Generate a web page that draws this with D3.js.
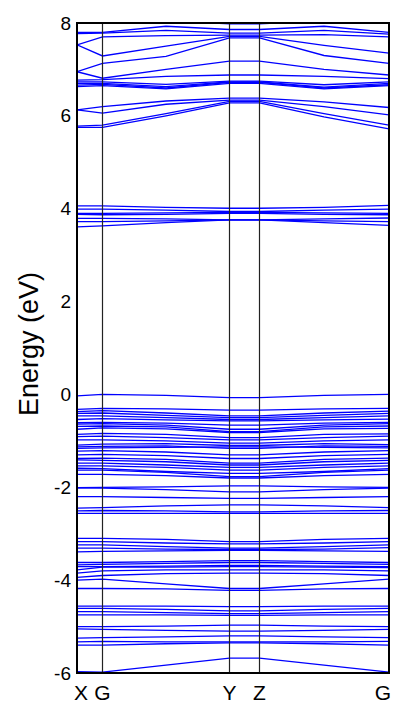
<!DOCTYPE html>
<html>
<head>
<meta charset="utf-8">
<script src="https://cdn.jsdelivr.net/npm/d3@7"></script>
<style>
  html, body { margin: 0; padding: 0; background: #fff; }
  svg { display: block; }
  text { font-family: Arial, "Liberation Sans", sans-serif; fill: #000; }
</style>
</head>
<body>
<svg id="chart" width="393" height="706"></svg>
<script>
// k-path: high-symmetry points and their cumulative distances
const symLabels = ["X", "G", "Y", "Z", "G"];
const symK = [0, 0.255, 1.525, 1.825, 3.12];
// sample points along the path: X, G, mid(G-Y), Y, Z, mid(Z-G), G
const kSamples = [0, 0.255, 0.89, 1.525, 1.825, 2.47, 3.12];
const energyTicks = [-6, -4, -2, 0, 2, 4, 6, 8];

// conduction bands above 5.5 eV
const bandsHigh = [
  [8.30, 8.20, 8.05, 7.98, 7.98, 8.05, 8.20],
  [7.80, 7.80, 7.93, 7.86, 7.86, 7.93, 7.80],
  [7.77, 7.78, 7.84, 7.78, 7.78, 7.84, 7.76],
  [7.53, 7.70, 7.73, 7.74, 7.74, 7.75, 7.70],
  [7.53, 7.29, 7.50, 7.71, 7.71, 7.52, 7.35],
  [6.95, 7.13, 7.28, 7.68, 7.68, 7.30, 7.13],
  [6.95, 6.81, 7.00, 7.18, 7.18, 7.00, 6.88],
  [6.77, 6.78, 6.85, 6.88, 6.88, 6.85, 6.80],
  [6.73, 6.73, 6.68, 6.75, 6.75, 6.67, 6.73],
  [6.70, 6.70, 6.63, 6.73, 6.73, 6.62, 6.70],
  [6.66, 6.68, 6.60, 6.72, 6.72, 6.60, 6.67],
  [6.63, 6.65, 6.58, 6.70, 6.70, 6.58, 6.65],
  [6.13, 6.20, 6.32, 6.38, 6.38, 6.30, 6.18],
  [6.13, 6.06, 6.25, 6.34, 6.34, 6.20, 6.02],
  [5.78, 5.80, 6.05, 6.31, 6.31, 6.05, 5.80],
  [5.75, 5.75, 6.00, 6.28, 6.28, 5.98, 5.72]
];

// conduction bands around 4 eV
const bandsMid = [
  [4.06, 4.06, 4.03, 4.01, 4.01, 4.03, 4.07],
  [3.99, 3.99, 3.97, 3.94, 3.94, 3.97, 3.99],
  [3.90, 3.90, 3.91, 3.92, 3.92, 3.91, 3.90],
  [3.88, 3.87, 3.88, 3.90, 3.90, 3.88, 3.87],
  [3.79, 3.79, 3.78, 3.76, 3.76, 3.78, 3.80],
  [3.72, 3.72, 3.74, 3.76, 3.76, 3.74, 3.72],
  [3.61, 3.63, 3.70, 3.76, 3.76, 3.70, 3.64]
];

// upper valence bands, 0 to -2.6 eV
const bandsVal = [
  [-0.03, 0.00, -0.02, -0.07, -0.07, -0.02, 0.00],
  [-0.32, -0.30, -0.31, -0.34, -0.34, -0.31, -0.30],
  [-0.37, -0.35, -0.40, -0.46, -0.46, -0.40, -0.36],
  [-0.41, -0.40, -0.45, -0.50, -0.50, -0.45, -0.41],
  [-0.46, -0.46, -0.50, -0.54, -0.54, -0.50, -0.46],
  [-0.54, -0.52, -0.55, -0.57, -0.57, -0.55, -0.53],
  [-0.61, -0.60, -0.62, -0.66, -0.66, -0.62, -0.60],
  [-0.64, -0.63, -0.66, -0.75, -0.75, -0.66, -0.63],
  [-0.69, -0.68, -0.70, -0.80, -0.80, -0.70, -0.68],
  [-0.75, -0.72, -0.74, -0.82, -0.82, -0.74, -0.73],
  [-0.86, -0.84, -0.86, -0.93, -0.93, -0.86, -0.85],
  [-0.91, -0.90, -0.93, -0.98, -0.98, -0.93, -0.90],
  [-0.98, -0.98, -1.00, -1.05, -1.05, -1.00, -0.98],
  [-1.09, -1.07, -1.06, -1.10, -1.10, -1.06, -1.08],
  [-1.13, -1.12, -1.11, -1.16, -1.16, -1.11, -1.12],
  [-1.16, -1.15, -1.14, -1.13, -1.13, -1.14, -1.15],
  [-1.22, -1.21, -1.24, -1.30, -1.30, -1.24, -1.21],
  [-1.30, -1.29, -1.32, -1.38, -1.38, -1.32, -1.29],
  [-1.38, -1.37, -1.40, -1.48, -1.48, -1.40, -1.37],
  [-1.41, -1.42, -1.45, -1.52, -1.52, -1.45, -1.42],
  [-1.48, -1.48, -1.52, -1.57, -1.57, -1.52, -1.48],
  [-1.54, -1.54, -1.57, -1.63, -1.63, -1.57, -1.54],
  [-1.59, -1.60, -1.66, -1.70, -1.70, -1.66, -1.60],
  [-1.63, -1.63, -1.68, -1.77, -1.77, -1.68, -1.63],
  [-1.72, -1.72, -1.75, -1.80, -1.80, -1.75, -1.72],
  [-2.01, -2.00, -1.99, -1.97, -1.97, -1.99, -2.00],
  [-2.01, -2.02, -2.05, -2.10, -2.10, -2.05, -2.02],
  [-2.20, -2.20, -2.22, -2.24, -2.24, -2.22, -2.20],
  [-2.45, -2.44, -2.40, -2.38, -2.38, -2.40, -2.44],
  [-2.51, -2.50, -2.51, -2.53, -2.53, -2.51, -2.50],
  [-2.56, -2.56, -2.56, -2.56, -2.56, -2.56, -2.56]
];

// deeper valence bands, -3 to -6 eV
const bandsDeep = [
  [-3.10, -3.10, -3.12, -3.17, -3.17, -3.12, -3.10],
  [-3.17, -3.17, -3.20, -3.22, -3.22, -3.20, -3.17],
  [-3.24, -3.24, -3.28, -3.31, -3.31, -3.28, -3.24],
  [-3.31, -3.31, -3.33, -3.34, -3.34, -3.33, -3.30],
  [-3.39, -3.38, -3.37, -3.36, -3.36, -3.37, -3.38],
  [-3.62, -3.62, -3.60, -3.58, -3.58, -3.60, -3.62],
  [-3.67, -3.66, -3.64, -3.62, -3.62, -3.64, -3.66],
  [-3.71, -3.71, -3.70, -3.68, -3.68, -3.70, -3.71],
  [-3.78, -3.72, -3.72, -3.71, -3.71, -3.72, -3.73],
  [-3.85, -3.80, -3.78, -3.78, -3.78, -3.78, -3.80],
  [-3.94, -3.90, -3.86, -3.85, -3.85, -3.86, -3.90],
  [-4.00, -3.98, -4.08, -4.18, -4.18, -4.08, -3.98],
  [-4.18, -4.18, -4.19, -4.22, -4.22, -4.19, -4.18],
  [-4.56, -4.56, -4.56, -4.57, -4.57, -4.56, -4.56],
  [-4.61, -4.61, -4.63, -4.66, -4.66, -4.63, -4.61],
  [-4.68, -4.68, -4.70, -4.72, -4.72, -4.70, -4.68],
  [-4.75, -4.75, -4.75, -4.76, -4.76, -4.75, -4.75],
  [-5.00, -5.00, -4.99, -4.97, -4.97, -4.99, -5.00],
  [-5.05, -5.06, -5.08, -5.10, -5.10, -5.08, -5.06],
  [-5.25, -5.24, -5.22, -5.20, -5.20, -5.22, -5.24],
  [-5.33, -5.32, -5.33, -5.33, -5.33, -5.33, -5.32],
  [-5.40, -5.40, -5.37, -5.35, -5.35, -5.37, -5.40],
  [-5.97, -5.98, -5.83, -5.68, -5.68, -5.83, -5.98]
];

const bands = [...bandsHigh, ...bandsMid, ...bandsVal, ...bandsDeep];

const plot = { left: 77, right: 389, top: 23, bottom: 673 };

const x = d3.scaleLinear().domain([symK[0], symK[symK.length - 1]]).range([plot.left, plot.right]);
const y = d3.scaleLinear().domain([-6, 8]).range([plot.bottom, plot.top]);

const svg = d3.select("#chart");

svg.append("defs").append("clipPath").attr("id", "plot-clip")
  .append("rect")
  .attr("x", plot.left).attr("y", plot.top)
  .attr("width", plot.right - plot.left).attr("height", plot.bottom - plot.top);

// band lines
const line = d3.line().x((d, i) => x(kSamples[i])).y(d => y(d));
svg.append("g").attr("clip-path", "url(#plot-clip)")
  .selectAll("path").data(bands).join("path")
  .attr("d", line)
  .attr("fill", "none")
  .attr("stroke", "#0000ff")
  .attr("stroke-width", 1.3);

// high-symmetry vertical lines
svg.append("g").selectAll("line").data(symK.slice(1, -1)).join("line")
  .attr("x1", d => x(d)).attr("x2", d => x(d))
  .attr("y1", plot.top).attr("y2", plot.bottom)
  .attr("stroke", "#222").attr("stroke-width", 1.2);

// frame
svg.append("rect")
  .attr("x", plot.left).attr("y", plot.top)
  .attr("width", plot.right - plot.left).attr("height", plot.bottom - plot.top)
  .attr("fill", "none").attr("stroke", "#000").attr("stroke-width", 2);

// energy axis
const yAxis = d3.axisLeft(y).tickValues(energyTicks).tickSize(0).tickPadding(6)
  .tickFormat(d => String(d));
const gy = svg.append("g").attr("transform", `translate(${plot.left},0)`).call(yAxis);
gy.select(".domain").remove();
gy.selectAll("text").style("font-size", "19px").style("font-family", "Arial, 'Liberation Sans', sans-serif").attr("fill", "#000");

// k-path labels
const labelShift = [4, 0, 0, 0, -6];
svg.append("g").selectAll("text").data(symLabels).join("text")
  .attr("x", (d, i) => x(symK[i]) + labelShift[i])
  .attr("y", 700)
  .attr("text-anchor", "middle")
  .style("font-size", "21px")
  .text(d => d);

// axis title
svg.append("text")
  .attr("transform", `translate(38,${(plot.top + plot.bottom) / 2 - 4}) rotate(-90)`)
  .attr("text-anchor", "middle")
  .style("font-size", "27px")
  .text("Energy (eV)");
</script>
</body>
</html>
